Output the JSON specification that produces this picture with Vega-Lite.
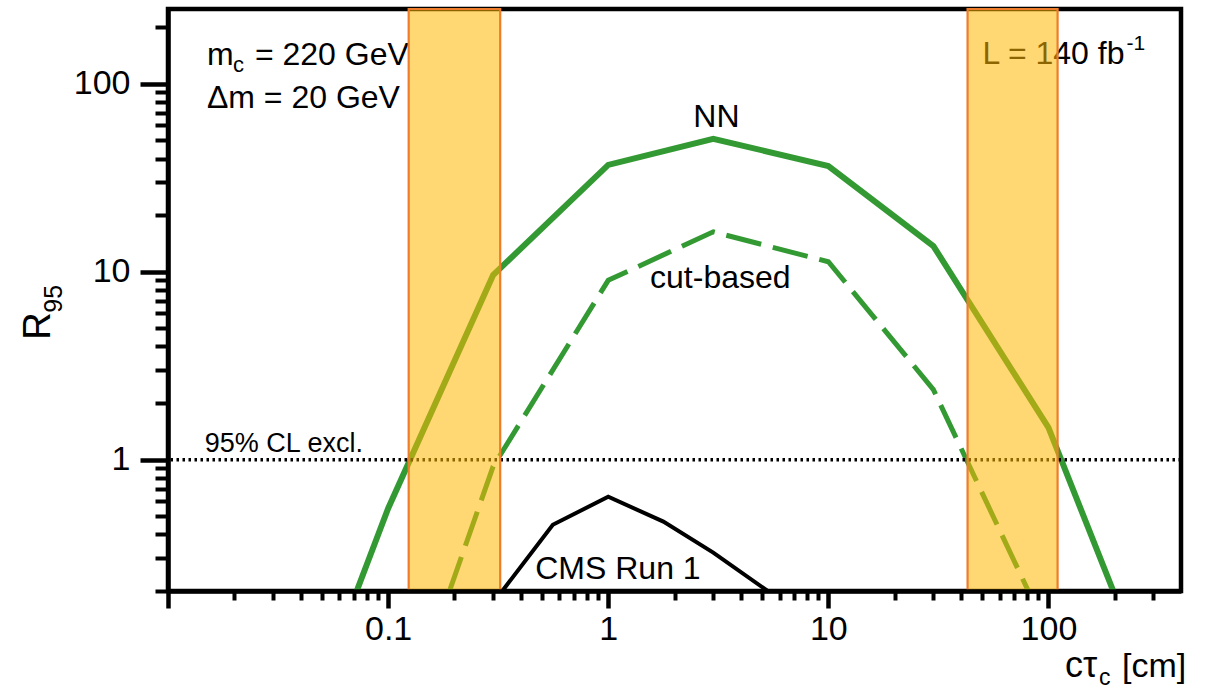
{
  "$schema": "https://vega.github.io/schema/vega-lite/v6.json",
  "width": 1013,
  "height": 582,
  "autosize": {"type": "none"},
  "padding": {"left": 168, "top": 9, "right": 31, "bottom": 98},
  "background": "white",
  "config": {
    "view": {"stroke": "black", "strokeWidth": 4.5},
    "font": "Liberation Sans",
    "axis": {"grid": false},
    "text": {"font": "Liberation Sans", "color": "black"}
  },
  "datasets": {
    "curves": [
      {"series": "NN", "ctau": 0.072, "r95": 0.2},
      {"series": "NN", "ctau": 0.1, "r95": 0.55},
      {"series": "NN", "ctau": 0.3, "r95": 9.6},
      {"series": "NN", "ctau": 1, "r95": 37},
      {"series": "NN", "ctau": 3, "r95": 51},
      {"series": "NN", "ctau": 10, "r95": 36.5},
      {"series": "NN", "ctau": 30, "r95": 13.7},
      {"series": "NN", "ctau": 100, "r95": 1.48},
      {"series": "NN", "ctau": 197, "r95": 0.2},
      {"series": "cut", "ctau": 0.19, "r95": 0.2},
      {"series": "cut", "ctau": 0.3, "r95": 0.92},
      {"series": "cut", "ctau": 1, "r95": 9},
      {"series": "cut", "ctau": 3, "r95": 16.3},
      {"series": "cut", "ctau": 10, "r95": 11.3},
      {"series": "cut", "ctau": 30, "r95": 2.36},
      {"series": "cut", "ctau": 81, "r95": 0.2},
      {"series": "CMS", "ctau": 0.33, "r95": 0.2},
      {"series": "CMS", "ctau": 0.56, "r95": 0.45},
      {"series": "CMS", "ctau": 1, "r95": 0.635},
      {"series": "CMS", "ctau": 1.78, "r95": 0.468},
      {"series": "CMS", "ctau": 3, "r95": 0.32},
      {"series": "CMS", "ctau": 5.3, "r95": 0.2}
    ],
    "one": [{}],
    "bands": [
      {"band": "left", "lo": 0.124, "hi": 0.323},
      {"band": "right", "lo": 42.9, "hi": 110}
    ]
  },
  "layer": [
    {
      "data": {"name": "curves"},
      "transform": [{"filter": "datum.series == 'NN'"}],
      "mark": {"type": "line", "color": "#339933", "strokeWidth": 6, "clip": true},
      "encoding": {
        "x": {"field": "ctau", "type": "quantitative",
          "scale": {"type": "log", "domain": [0.01, 400], "nice": false},
          "axis": {"orient": "bottom", "values": [0.01, 0.1, 1, 10, 100], "format": "~g",
            "labelExpr": "datum.value < 0.05 ? '' : datum.label",
            "tickSize": 17, "tickWidth": 4.5, "tickColor": "black",
            "domainColor": "black", "domainWidth": 4.5,
            "labelFontSize": 34, "labelColor": "black", "labelPadding": 4, "labelFont": "Liberation Sans",
            "labelOverlap": false, "labelBound": false, "labelFlush": false,
            "title": null, "zindex": 1}},
        "y": {"field": "r95", "type": "quantitative",
          "scale": {"type": "log", "domain": [0.2, 250], "nice": false},
          "axis": {"orient": "left", "values": [1, 10, 100], "format": "~g",
            "tickSize": 28, "tickWidth": 4.5, "tickColor": "black",
            "domainColor": "black", "domainWidth": 4.5,
            "labelFontSize": 34, "labelColor": "black", "labelPadding": 10, "labelFont": "Liberation Sans",
            "labelOverlap": false, "labelBound": false, "labelFlush": false,
            "title": null, "zindex": 1}}
      }
    },
    {
      "data": {"name": "curves"},
      "transform": [{"filter": "datum.series == 'CMS'"}],
      "mark": {"type": "line", "color": "black", "strokeWidth": 4, "clip": true},
      "encoding": {
        "x": {"field": "ctau", "type": "quantitative",
          "scale": {"type": "log", "domain": [0.01, 400], "nice": false},
          "axis": {"orient": "bottom",
            "values": [0.02, 0.03, 0.04, 0.05, 0.06, 0.07, 0.08, 0.09, 0.2, 0.3, 0.4, 0.5, 0.6, 0.7, 0.8, 0.9, 2, 3, 4, 5, 6, 7, 8, 9, 20, 30, 40, 50, 60, 70, 80, 90, 200, 300],
            "tickSize": 9, "tickWidth": 4, "tickColor": "black",
            "labels": false, "domain": false, "title": null, "zindex": 1}},
        "y": {"field": "r95", "type": "quantitative",
          "scale": {"type": "log", "domain": [0.2, 250], "nice": false},
          "axis": {"orient": "left",
            "values": [0.2, 0.3, 0.4, 0.5, 0.6, 0.7, 0.8, 0.9, 2, 3, 4, 5, 6, 7, 8, 9, 20, 30, 40, 50, 60, 70, 80, 90, 200],
            "tickSize": 13, "tickWidth": 4, "tickColor": "black",
            "labels": false, "domain": false, "title": null, "zindex": 1}}
      }
    },
    {
      "data": {"name": "curves"},
      "transform": [{"filter": "datum.series == 'cut'"}],
      "mark": {"type": "line", "color": "#339933", "strokeWidth": 5, "strokeDash": [36, 12], "clip": true},
      "encoding": {
        "x": {"field": "ctau", "type": "quantitative", "scale": {"type": "log", "domain": [0.01, 400], "nice": false}, "axis": null},
        "y": {"field": "r95", "type": "quantitative", "scale": {"type": "log", "domain": [0.2, 250], "nice": false}, "axis": null}
      }
    },
    {
      "data": {"name": "one"},
      "mark": {"type": "rule", "color": "black", "strokeWidth": 3.5, "strokeDash": [2.5, 3.5]},
      "encoding": {
        "y": {"datum": 1, "type": "quantitative", "scale": {"type": "log", "domain": [0.2, 250], "nice": false}, "axis": null}
      }
    },
    {
      "data": {"name": "one"},
      "mark": {"type": "text", "text": "NN", "fontSize": 32, "align": "center", "baseline": "alphabetic"},
      "encoding": {
        "x": {"datum": 3.1, "type": "quantitative", "scale": {"type": "log", "domain": [0.01, 400], "nice": false}, "axis": null},
        "y": {"datum": 59, "type": "quantitative", "scale": {"type": "log", "domain": [0.2, 250], "nice": false}, "axis": null}
      }
    },
    {
      "data": {"name": "one"},
      "mark": {"type": "text", "text": "cut-based", "fontSize": 32, "align": "center", "baseline": "alphabetic"},
      "encoding": {
        "x": {"datum": 3.23, "type": "quantitative", "scale": {"type": "log", "domain": [0.01, 400], "nice": false}, "axis": null},
        "y": {"datum": 8.2, "type": "quantitative", "scale": {"type": "log", "domain": [0.2, 250], "nice": false}, "axis": null}
      }
    },
    {
      "data": {"name": "one"},
      "mark": {"type": "text", "text": "CMS Run 1", "fontSize": 32, "align": "left", "baseline": "alphabetic"},
      "encoding": {
        "x": {"datum": 0.466, "type": "quantitative", "scale": {"type": "log", "domain": [0.01, 400], "nice": false}, "axis": null},
        "y": {"datum": 0.233, "type": "quantitative", "scale": {"type": "log", "domain": [0.2, 250], "nice": false}, "axis": null}
      }
    },
    {
      "data": {"name": "one"},
      "mark": {"type": "text", "text": "95% CL excl.", "fontSize": 27, "align": "left", "baseline": "alphabetic"},
      "encoding": {
        "x": {"datum": 0.0147, "type": "quantitative", "scale": {"type": "log", "domain": [0.01, 400], "nice": false}, "axis": null},
        "y": {"datum": 1.1, "type": "quantitative", "scale": {"type": "log", "domain": [0.2, 250], "nice": false}, "axis": null}
      }
    },
    {
      "data": {"name": "one"},
      "mark": {"type": "text", "text": "m", "fontSize": 32, "align": "left", "baseline": "alphabetic"},
      "encoding": {
        "x": {"datum": 0.01503, "type": "quantitative", "scale": {"type": "log", "domain": [0.01, 400], "nice": false}, "axis": null},
        "y": {"datum": 126, "type": "quantitative", "scale": {"type": "log", "domain": [0.2, 250], "nice": false}, "axis": null}
      }
    },
    {
      "data": {"name": "one"},
      "mark": {"type": "text", "text": "c", "fontSize": 22, "align": "left", "baseline": "alphabetic", "dx": 26, "dy": 7},
      "encoding": {
        "x": {"datum": 0.01503, "type": "quantitative", "scale": {"type": "log", "domain": [0.01, 400], "nice": false}, "axis": null},
        "y": {"datum": 126, "type": "quantitative", "scale": {"type": "log", "domain": [0.2, 250], "nice": false}, "axis": null}
      }
    },
    {
      "data": {"name": "one"},
      "mark": {"type": "text", "text": "= 220 GeV", "fontSize": 32, "align": "left", "baseline": "alphabetic", "dx": 48},
      "encoding": {
        "x": {"datum": 0.01503, "type": "quantitative", "scale": {"type": "log", "domain": [0.01, 400], "nice": false}, "axis": null},
        "y": {"datum": 126, "type": "quantitative", "scale": {"type": "log", "domain": [0.2, 250], "nice": false}, "axis": null}
      }
    },
    {
      "data": {"name": "one"},
      "mark": {"type": "text", "text": "Δm = 20 GeV", "fontSize": 32, "align": "left", "baseline": "alphabetic"},
      "encoding": {
        "x": {"datum": 0.01503, "type": "quantitative", "scale": {"type": "log", "domain": [0.01, 400], "nice": false}, "axis": null},
        "y": {"datum": 74.5, "type": "quantitative", "scale": {"type": "log", "domain": [0.2, 250], "nice": false}, "axis": null}
      }
    },
    {
      "data": {"name": "one"},
      "mark": {"type": "text", "text": "L = 140 fb", "fontSize": 32, "align": "left", "baseline": "alphabetic"},
      "encoding": {
        "x": {"datum": 50.1, "type": "quantitative", "scale": {"type": "log", "domain": [0.01, 400], "nice": false}, "axis": null},
        "y": {"datum": 128, "type": "quantitative", "scale": {"type": "log", "domain": [0.2, 250], "nice": false}, "axis": null}
      }
    },
    {
      "data": {"name": "one"},
      "mark": {"type": "text", "text": "-1", "fontSize": 21, "align": "left", "baseline": "alphabetic", "dx": 144, "dy": -14},
      "encoding": {
        "x": {"datum": 50.1, "type": "quantitative", "scale": {"type": "log", "domain": [0.01, 400], "nice": false}, "axis": null},
        "y": {"datum": 128, "type": "quantitative", "scale": {"type": "log", "domain": [0.2, 250], "nice": false}, "axis": null}
      }
    },
    {
      "data": {"name": "one"},
      "mark": {"type": "text", "text": "cτ", "fontSize": 36, "align": "left", "baseline": "alphabetic", "dx": -116},
      "encoding": {
        "x": {"datum": 400, "type": "quantitative", "scale": {"type": "log", "domain": [0.01, 400], "nice": false}, "axis": null},
        "y": {"datum": 0.0701, "type": "quantitative", "scale": {"type": "log", "domain": [0.2, 250], "nice": false}, "axis": null}
      }
    },
    {
      "data": {"name": "one"},
      "mark": {"type": "text", "text": "c", "fontSize": 23, "align": "left", "baseline": "alphabetic", "dx": -82, "dy": 8},
      "encoding": {
        "x": {"datum": 400, "type": "quantitative", "scale": {"type": "log", "domain": [0.01, 400], "nice": false}, "axis": null},
        "y": {"datum": 0.0701, "type": "quantitative", "scale": {"type": "log", "domain": [0.2, 250], "nice": false}, "axis": null}
      }
    },
    {
      "data": {"name": "one"},
      "mark": {"type": "text", "text": "[cm]", "fontSize": 34, "align": "left", "baseline": "alphabetic", "dx": -59},
      "encoding": {
        "x": {"datum": 400, "type": "quantitative", "scale": {"type": "log", "domain": [0.01, 400], "nice": false}, "axis": null},
        "y": {"datum": 0.0701, "type": "quantitative", "scale": {"type": "log", "domain": [0.2, 250], "nice": false}, "axis": null}
      }
    },
    {
      "data": {"name": "one"},
      "mark": {"type": "text", "text": "R", "fontSize": 38, "align": "left", "baseline": "alphabetic", "angle": 270},
      "encoding": {
        "x": {"datum": 0.00291, "type": "quantitative", "scale": {"type": "log", "domain": [0.01, 400], "nice": false}, "axis": null},
        "y": {"datum": 4.35, "type": "quantitative", "scale": {"type": "log", "domain": [0.2, 250], "nice": false}, "axis": null}
      }
    },
    {
      "data": {"name": "one"},
      "mark": {"type": "text", "text": "95", "fontSize": 25, "align": "left", "baseline": "alphabetic", "angle": 270, "dx": 27, "dy": 12},
      "encoding": {
        "x": {"datum": 0.00291, "type": "quantitative", "scale": {"type": "log", "domain": [0.01, 400], "nice": false}, "axis": null},
        "y": {"datum": 4.35, "type": "quantitative", "scale": {"type": "log", "domain": [0.2, 250], "nice": false}, "axis": null}
      }
    },
    {
      "data": {"name": "bands"},
      "mark": {"type": "rect", "fill": "#FFB800", "fillOpacity": 0.55, "stroke": "#EE7D2B", "strokeWidth": 2.2},
      "encoding": {
        "x": {"field": "lo", "type": "quantitative", "scale": {"type": "log", "domain": [0.01, 400], "nice": false}, "axis": null},
        "x2": {"field": "hi"}
      }
    }
  ],
  "resolve": {"axis": {"x": "independent", "y": "independent"}}
}
